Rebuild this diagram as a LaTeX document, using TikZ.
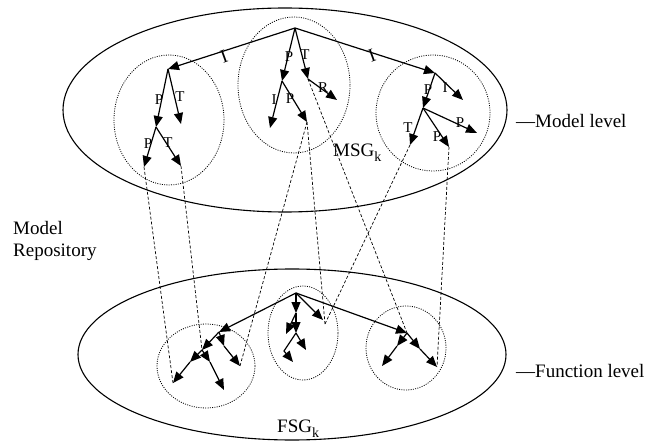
\documentclass[tikz,border=0pt]{standalone}
\usepackage{fontspec}
\setmainfont{Liberation Serif}
\usetikzlibrary{arrows.meta,shapes.geometric}
\tikzset{level/.style={draw,ellipse,line width=1.1pt,inner sep=0pt}, group/.style={draw,ellipse,dash pattern=on 1pt off 1.3pt,line width=0.8pt,inner sep=0pt}, link/.style={-{Triangle[length=11pt,width=9pt]},line width=1.2pt}, trace/.style={dash pattern=on 3pt off 2pt,line width=0.7pt}, lab/.style={font=\fontsize{15}{15}\selectfont,inner sep=0pt}, txt/.style={font=\fontsize{19}{22}\selectfont,inner sep=0pt,align=left}}
\newcommand{\subk}{\raisebox{-5pt}{\fontsize{14}{14}\selectfont k}}

\begin{document}
\begin{tikzpicture}[x=1pt,y=-1pt]
\useasboundingbox (0,0) rectangle (663,443);
% levels and groups
\node[level,minimum width=444pt,minimum height=204pt] (msg) at (285,110) {};
\node[level,minimum width=428pt,minimum height=171pt] (fsg) at (292,354.5) {};
\node[group,minimum width=110pt,minimum height=130pt] (g1) at (169,120) {};
\node[group,minimum width=112pt,minimum height=136pt] (g2) at (294,85) {};
\node[group,minimum width=114pt,minimum height=116pt] (g3) at (433,113) {};
\node[group,minimum width=98pt,minimum height=84pt] (g4) at (206,366) {};
\node[group,minimum width=70pt,minimum height=94pt] (g5) at (303,333) {};
\node[group,minimum width=80pt,minimum height=84pt] (g6) at (406,348) {};
% model level tree
\coordinate (mroot) at (295,28);
\coordinate (lA) at (168,69);
\coordinate (lB) at (156,127);
\coordinate (lC) at (181,124);
\coordinate (lD) at (144,167);
\coordinate (lE) at (181,166);
\coordinate (mA) at (282,81);
\coordinate (mB) at (308,79);
\coordinate (mC) at (337,100);
\coordinate (mD) at (270,128);
\coordinate (mE) at (307,122);
\coordinate (rA) at (435,73);
\coordinate (rB) at (423,108);
\coordinate (rC) at (463,100);
\coordinate (rD) at (410,145);
\coordinate (rE) at (449,147);
\coordinate (rF) at (477,133);
% function level tree
\coordinate (froot) at (296,293);
\coordinate (bA) at (219,332);
\coordinate (bB) at (202,350);
\coordinate (bC) at (224,346);
\coordinate (bD) at (240,366);
\coordinate (bE) at (190,362);
\coordinate (bF) at (173,383);
\coordinate (bG) at (210,362);
\coordinate (bH) at (224,390);
\coordinate (cA) at (296,313);
\coordinate (cB) at (296,333);
\coordinate (cC) at (286,334);
\coordinate (cD) at (306,350);
\coordinate (cE) at (284,351);
\coordinate (cF) at (293,362);
\coordinate (cG) at (323,320);
\coordinate (vV) at (325,324);
\coordinate (dA) at (407,333);
\coordinate (dB) at (397,346);
\coordinate (dC) at (382,366);
\coordinate (dD) at (420,349);
\coordinate (dE) at (437,367);
% traces between levels
\draw[trace] (lD)--(bF);
\draw[trace] (lE)--(bB);
\draw[trace] (mE)--(vV);
\draw[trace] (rD)--(vV);
\draw[trace] (mE)--(bD);
\draw[trace] (mB)--(dA);
\draw[trace] (rE)--(dE);
\draw[link] (mroot)--(lA);
\draw[link] (mroot)--(rA);
\draw[link] (mroot)--(mA);
\draw[link] (mroot)--(mB);
\draw[link] (mB)--(mC);
\draw[link] (mA)--(mD);
\draw[link] (mA)--(mE);
\draw[link] (lA)--(lB);
\draw[link] (lA)--(lC);
\draw[link] (lB)--(lD);
\draw[link] (lB)--(lE);
\draw[link] (rA)--(rB);
\draw[link] (rA)--(rC);
\draw[link] (rB)--(rD);
\draw[link] (rB)--(rE);
\draw[link] (rB)--(rF);
\draw[link] (froot)--(bA);
\draw[link] (froot)--(dA);
\draw[link] (froot)--(cA);
\draw[link] (froot)--(cG);
\draw[link] (cA)--(cB);
\draw[link] (cA)--(cC);
\draw[link] (cB)--(cD);
\draw[link] (cB)--(cE)--(cF);
\draw[link] (bA)--(bB);
\draw[link] (bA)--(bC);
\draw[link] (bC)--(bD);
\draw[link] (bB)--(bE);
\draw[link] (bE)--(bF);
\draw[link] (bB)--(bG);
\draw[link] (bG)--(bH);
\draw[link] (dA)--(dB);
\draw[link] (dB)--(dC);
\draw[link] (dA)--(dD);
\draw[link] (dD)--(dE);
% edge labels
\node[lab,rotate=20,font=\fontsize{19}{19}\selectfont] (t1) at (224,57) {I};
\node[lab,rotate=20,font=\fontsize{19}{19}\selectfont] (t2) at (372,56) {I};
\node[lab] (l1) at (289,57) {P};
\node[lab] (l2) at (305,55) {T};
\node[lab] (l3) at (323,88) {R};
\node[lab] (l4) at (274,100) {I};
\node[lab] (l5) at (290,99) {P};
\node[lab] (l6) at (159,100) {P};
\node[lab] (l7) at (180,97) {T};
\node[lab] (l8) at (148,144) {P};
\node[lab] (l9) at (168,143) {T};
\node[lab] (l10) at (428,90) {P};
\node[lab] (l11) at (445,88) {I};
\node[lab] (l12) at (408,128) {T};
\node[lab] (l13) at (437,137) {P};
\node[lab] (l14) at (460,123) {P};
% captions
\node[txt,anchor=base west] (msgk) at (333,157) {MSG\subk};
\node[txt,anchor=base west] (fsgk) at (277,432) {FSG\subk};
\node[txt,anchor=north west] (repo) at (13,221.5) {Model\\Repository};
\node[txt,anchor=base west] (mlev) at (516,128) {—Model level};
\node[txt,anchor=base west] (flev) at (516,377) {—Function level};
\end{tikzpicture}
\end{document}
